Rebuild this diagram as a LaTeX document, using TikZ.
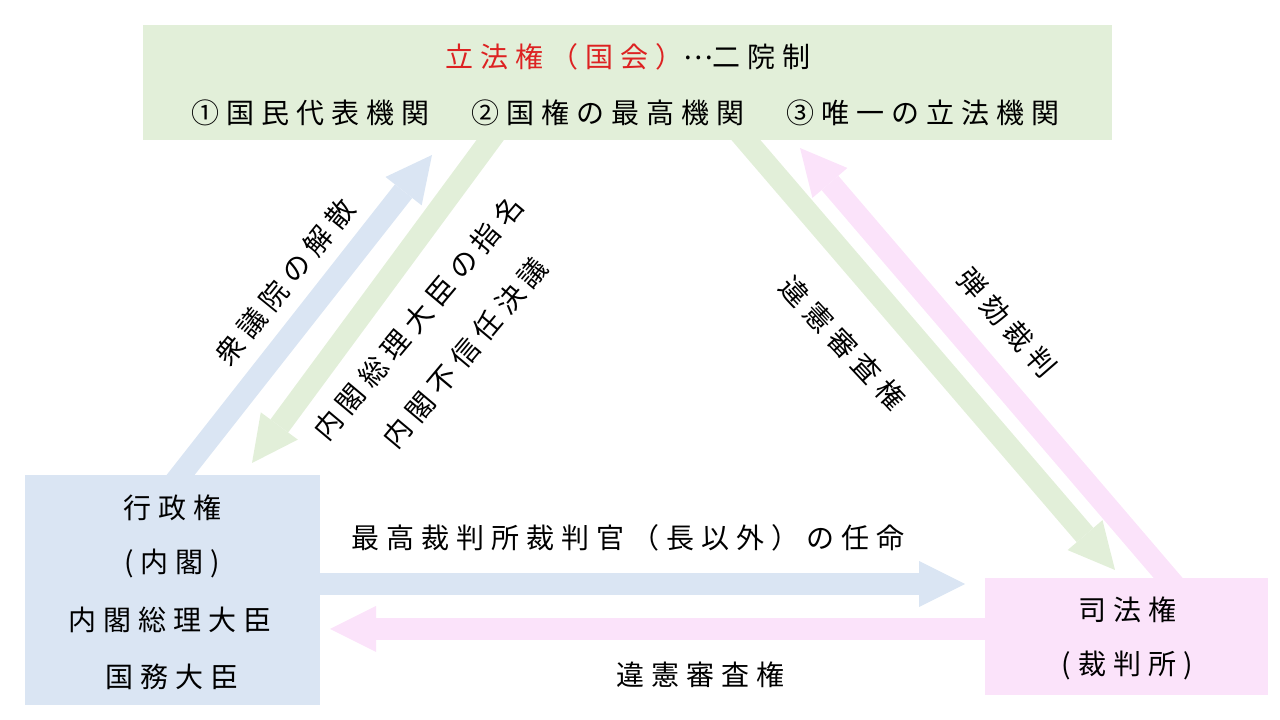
\documentclass[tikz,border=0pt]{standalone}
\usepackage{fontspec}
\setmainfont{Noto Sans CJK JP}[LetterSpace=25]
\usetikzlibrary{arrows.meta,calc}
\definecolor{lgreen}{HTML}{E2EFD9}
\definecolor{lblue}{HTML}{DAE5F3}
\definecolor{lpink}{HTML}{FBE3FA}
\definecolor{tred}{HTML}{DD2222}
\begin{document}
\begin{tikzpicture}[x=1pt,y=1pt,
  panel/.style={draw=none,inner sep=0pt,outer sep=0pt},
  band/.style={line width=22pt,-{Triangle[width=46pt,length=46pt,line width=0pt]}},
  txt/.style={font=\fontsize{28}{34}\selectfont,inner sep=0pt,text=black}]
\useasboundingbox (0,0) rectangle (1280,720);
% boxes
\node[panel,fill=lgreen,minimum width=969pt,minimum height=115pt] (leg) at (627.5,637.5) {};
\node[panel,fill=lblue,minimum width=295pt,minimum height=230pt] (exec) at (172.5,130) {};
\node[panel,fill=lpink,minimum width=283pt,minimum height=117pt] (jud) at (1126.5,83.5) {};
% connector ends
\coordinate (bdT) at ($(exec.north west)+(143,-16)$);
\coordinate (bdH) at ($(leg.south west)+(289,-15)$);
\coordinate (glT) at ($(leg.south west)+(359,16)$);
\coordinate (glH) at ($(exec.north west)+(227,12)$);
\coordinate (grT) at ($(leg.south west)+(590,15)$);
\coordinate (grH) at ($(jud.north west)+(130,8)$);
\coordinate (pdT) at ($(jud.north west)+(196,-15)$);
\coordinate (pdH) at ($(leg.south west)+(657,-8)$);
\coordinate (bhT) at ($(exec.east)+(-15,6)$);
\coordinate (bhH) at ($(jud.west)+(-20,52.5)$);
\coordinate (phT) at ($(jud.west)+(15,7.5)$);
\coordinate (phH) at ($(exec.east)+(10,-39)$);
% arrows
\draw[band,lblue] (bdT) -- (bdH);
\draw[band,lgreen] (glT) -- (glH);
\draw[band,lgreen] (grT) -- (grH);
\draw[band,lpink] (pdT) -- (pdH);
\draw[band,lblue] (bhT) -- (bhH);
\draw[band,lpink] (phT) -- (phH);
% texts in boxes
\node[txt] (legA) at (628,663) {\textcolor{tred}{立法権（国会）}\raisebox{0.3em}{…}二院制};
\node[txt] (legB) at (625,607) {①国民代表機関　②国権の最高機関　③唯一の立法機関};
\node[txt] (exA) at (172,212) {行政権};
\node[txt] (exB) at (172,157) {(内閣)};
\node[txt] (exC) at (170,100) {内閣総理大臣};
\node[txt] (exD) at (172,43) {国務大臣};
\node[txt] (juA) at (1127,110) {司法権};
\node[txt] (juB) at (1127,55) {(裁判所)};
% connector labels
\node[txt,rotate=51] (l1) at (285,438) {衆議院の解散};
\node[txt,rotate=50] (l2) at (418,402) {内閣総理大臣の指名};
\node[txt,rotate=50] (l3) at (465,367) {内閣不信任決議};
\node[txt,rotate=-47] (l4) at (843,377) {違憲審査権};
\node[txt,rotate=-49] (l5) at (1007,397) {弾劾裁判};
\node[txt] (l6) at (628,182) {最高裁判所裁判官（長以外）の任命};
\node[txt] (l7) at (700,45) {違憲審査権};
\end{tikzpicture}
\end{document}
